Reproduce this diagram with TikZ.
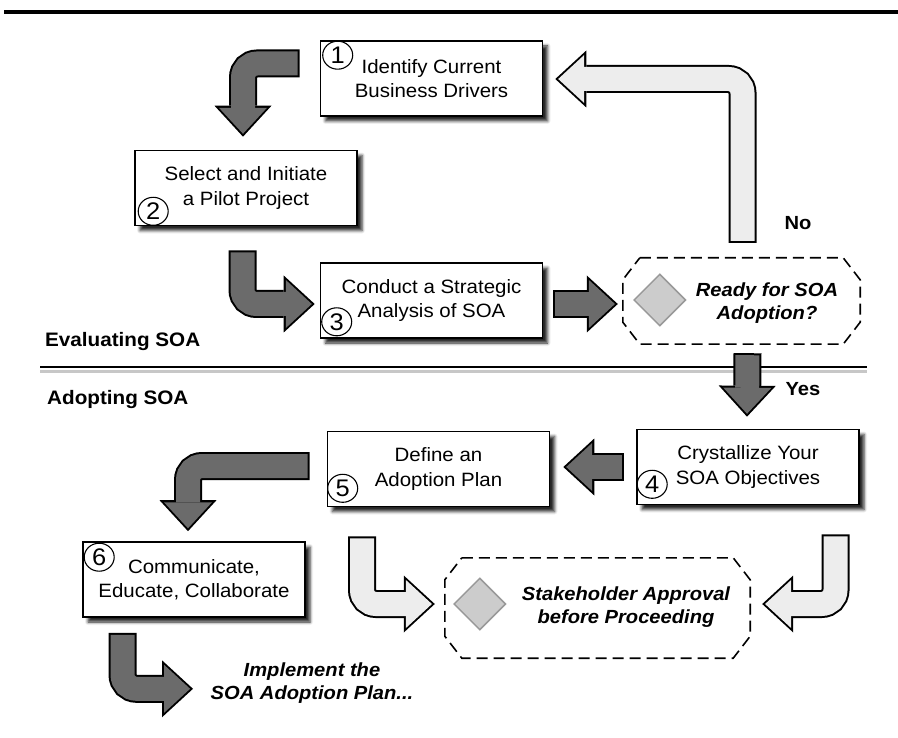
\documentclass[tikz,border=0pt]{standalone}
\usepackage{fontspec}
\setmainfont{Liberation Sans}[FakeStretch=1.06]
\usetikzlibrary{arrows.meta,calc,shapes.geometric,shadows.blur}

\definecolor{arrowdark}{gray}{0.42}
\definecolor{arrowlight}{gray}{0.93}
\definecolor{gemfill}{gray}{0.80}
\definecolor{gemline}{gray}{0.60}

\tikzstyle{stagebox}=[draw, line width=1.6pt, fill=white, inner sep=0pt,
  minimum width=222pt, minimum height=75pt, align=center,
  font=\fontsize{19.3}{24.5}\selectfont,
  blur shadow={shadow xshift=5pt, shadow yshift=-5pt, shadow blur radius=3pt, shadow opacity=85}]
\tikzstyle{stagenum}=[draw, ellipse, line width=1.1pt, inner sep=0pt,
  minimum width=30pt, minimum height=28pt, font=\fontsize{24}{24}\selectfont]
\tikzstyle{gate}=[minimum width=237pt, minimum height=86pt, inner sep=0pt]
\tikzstyle{gem}=[diamond, draw=gemline, fill=gemfill, line width=1.5pt, inner sep=0pt, minimum size=52pt]
\tikzstyle{question}=[align=center, font=\bfseries\itshape\fontsize{19}{23}\selectfont]
\tikzstyle{answer}=[font=\bfseries\fontsize{19}{19}\selectfont]
\tikzstyle{phase}=[anchor=west, inner sep=0pt, font=\bfseries\fontsize{19.5}{19.5}\selectfont]
\tikzstyle{gateline}=[line width=1.6pt, dash pattern=on 11pt off 6pt]

% block arrow: black outline first, then the fill on top
\newcommand{\blockarrow}[2]{%
  \draw[line width=28pt, rounded corners=14pt,
    -{Triangle[length=31pt,width=57pt,line width=0pt]}] #2;
  \draw[#1, line width=24pt, rounded corners=14pt, shorten <=2pt, shorten >=2.9pt,
    -{Triangle[length=26pt,width=48pt,line width=0pt]}] #2;}

% dashed octagon round a gate node
\newcommand{\gateframe}[1]{%
  \draw[gateline] ([xshift=17pt]#1.north west) -- ([xshift=-17pt]#1.north east)
    -- ([yshift=-22pt]#1.north east) -- ([yshift=22pt]#1.south east)
    -- ([xshift=-17pt]#1.south east) -- ([xshift=17pt]#1.south west)
    -- ([yshift=22pt]#1.south west) -- ([yshift=-22pt]#1.north west) -- cycle;}

\begin{document}
\begin{tikzpicture}[x=1pt, y=-1pt]
\useasboundingbox (0,0) rectangle (898,738);
% Rules
    \draw[line width=3.5pt] (4,12) -- (898,12);
    \draw[line width=3pt, black!22] (40,372) -- (867,372);
    \draw[line width=2.2pt] (40,367) -- (867,367);
    \node[phase] (eval) at (45,342) {Evaluating SOA};
    \node[phase] (adopt) at (47,400) {Adopting SOA};
% Steps
    \node[stagebox] (b1) at (431.5,78.5) {Identify Current\\Business Drivers};
    \node[stagebox] (b2) at (246,188) {Select and Initiate\\a Pilot Project};
    \node[stagebox] (b3) at (431.5,300.5) {Conduct a Strategic\\Analysis of SOA};
    \node[stagebox] (b4) at (748,467) {Crystallize Your\\SOA Objectives};
    \node[stagebox] (b5) at (438.5,469) {Define an\\Adoption Plan};
    \node[stagebox] (b6) at (194,579.5) {Communicate,\\Educate, Collaborate};
% Step numbers
    \node[stagenum] (n1) at ($(b1.north west)+(18,15)$) {1};
    \node[stagenum] (n2) at ($(b2.south west)+(19,-15)$) {2};
    \node[stagenum] (n3) at ($(b3.south west)+(17,-17)$) {3};
    \node[stagenum] (n4) at ($(b4.south west)+(16,-21)$) {4};
    \node[stagenum] (n5) at ($(b5.south west)+(16,-19)$) {5};
    \node[stagenum] (n6) at ($(b6.north west)+(17,16)$) {6};
% Decisions
    \node[gate] (g1) at (741.5,301) {};
    \gateframe{g1}
    \node[gem] (d1) at ($(g1.west)+(37,-1)$) {};
    \node[question] (q1) at ($(g1)+(25.5,2.5)$) {Ready for SOA\\Adoption?};
    \node[gate, minimum width=305pt, minimum height=100pt] (g2) at (597.5,608) {};
    \gateframe{g2}
    \node[gem] (d2) at ($(g2.west)+(35,-4)$) {};
    \node[question] (q2) at ($(g2)+(28.5,-0.5)$) {Stakeholder Approval\\before Proceeding};
    \node[answer] (no) at (798,223) {No};
    \node[answer] (yes) at (803,389) {Yes};
    \node[question] (impl) at (312,683.5) {Implement the\\SOA Adoption Plan...};
% Flow
    \blockarrow{arrowdark}{($(b1.west)+(-20,-15)$) -| ($(b2.north)+(-3,-13)$)}
    \blockarrow{arrowdark}{($(b2.south)+(-3.5,24)$) |- ($(b3.west)+(-5,3.5)$)}
    \blockarrow{arrowdark}{($(b3.east)+(10,3.5)$) -- ($(g1.west)+(-5,3)$)}
    \blockarrow{arrowlight}{($(g1.north)+(1,-15)$) |- ($(b1.east)+(12,0.5)$)}
    \blockarrow{arrowdark}{($(g1.south)+(6,9)$) -- ($(b4.north)+(-1,-12)$)}
    \blockarrow{arrowdark}{($(b4.west)+(-12,0)$) -- ($(b5.east)+(13,-2)$)}
    \blockarrow{arrowdark}{($(b5.west)+(-17,-3)$) -| ($(b6.north)+(-6,-10)$)}
    \blockarrow{arrowlight}{($(b5.south)+(-76.5,29)$) |- ($(g2.west)+(-10,-4)$)}
    \blockarrow{arrowlight}{($(b4.south)+(87.5,29)$) |- ($(g2.east)+(12,-4)$)}
    \blockarrow{arrowdark}{($(b6.south)+(-71.5,15)$) |- ($(b6.south)+(-1,71)$)}
\end{tikzpicture}
\end{document}
